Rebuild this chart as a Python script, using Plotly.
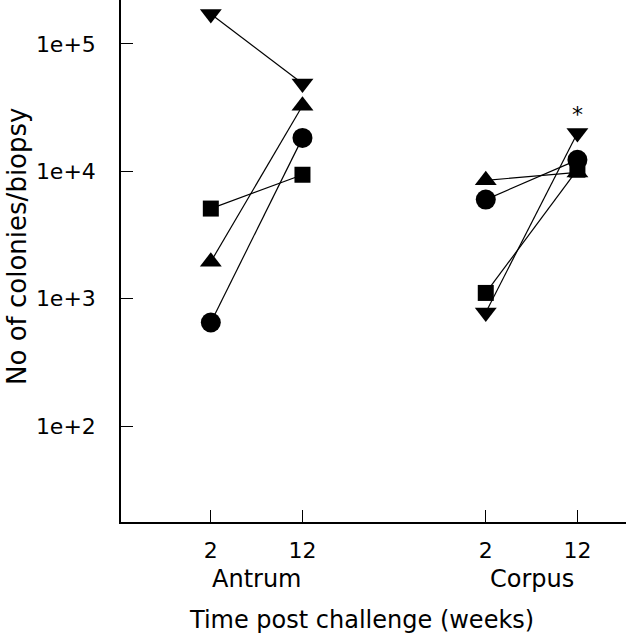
import plotly.graph_objects as go
import math

# x positions: Antrum 2wk, Antrum 12wk, (gap), Corpus 2wk, Corpus 12wk
x_pos = [1, 2, None, 4, 5]
tick_vals = [1, 2, 4, 5]
tick_text = ["2", "12", "2", "12"]
site_labels = ["Antrum", "Corpus"]
site_centers = [1.5, 4.5]

# colonies/biopsy: [Antrum 2, Antrum 12, None, Corpus 2, Corpus 12]
down_tri = [172000, 49000, None, 780, 20000]
up_tri = [1950, 32700, None, 8500, 9800]
circle = [650, 18300, None, 6000, 12300]
square = [5100, 9400, None, 1110, 10300]

y_tickvals = [100, 1000, 10000, 100000]
y_ticktext = ["1e+2", "1e+3", "1e+4", "1e+5"]

FONT = "DejaVu Sans"

fig = go.Figure()
series = [
    ("triangle-down", down_tri, 19),
    ("triangle-up", up_tri, 19),
    ("circle", circle, 20),
    ("square", square, 16),
]
for sym, vals, sz in series:
    fig.add_trace(go.Scatter(
        x=x_pos, y=vals, mode="lines+markers", connectgaps=False,
        line=dict(color="black", width=1.2),
        marker=dict(symbol=sym, size=sz, color="black", line=dict(width=0)),
        showlegend=False, cliponaxis=False,
    ))

# asterisk above Corpus 12-week down-triangle
fig.add_annotation(x=5, y=math.log10(down_tri[4]), text="*", showarrow=False,
                   yshift=18, font=dict(family=FONT, size=22, color="black"))

for lab, cx in zip(site_labels, site_centers):
    fig.add_annotation(x=cx, y=0, xref="x", yref="paper", yanchor="top",
                       text=lab, showarrow=False, yshift=-41,
                       font=dict(family=FONT, size=24, color="black"))

fig.add_annotation(x=0.5, y=0, xref="paper", yref="paper", yanchor="top",
                   xanchor="center", text="Time post challenge (weeks)",
                   showarrow=False, yshift=-82, xshift=-12,
                   font=dict(family=FONT, size=24, color="black"))
fig.add_annotation(x=0, y=0.527, xref="paper", yref="paper", xanchor="center",
                   yanchor="middle", text="No of colonies/biopsy", textangle=-90,
                   showarrow=False, xshift=-104,
                   font=dict(family=FONT, size=26, color="black"))

fig.update_xaxes(range=[0.02, 5.53], tickvals=tick_vals, ticktext=tick_text,
                 ticks="inside", ticklen=12, tickwidth=1.2, tickcolor="black",
                 showline=True, linecolor="black", linewidth=1.5,
                 showgrid=False, zeroline=False, ticklabelstandoff=8,
                 tickfont=dict(family=FONT, size=22, color="black"))
fig.update_yaxes(type="log", range=[1.247, 5.345], tickvals=y_tickvals,
                 ticktext=y_ticktext, ticks="inside", ticklen=12, tickwidth=1.2,
                 tickcolor="black", showline=True, linecolor="black",
                 linewidth=1.5, showgrid=False, zeroline=False,
                 ticklabelstandoff=19,
                 tickfont=dict(family=FONT, size=22, color="black"))

fig.update_layout(width=626, height=639, plot_bgcolor="white",
                  paper_bgcolor="white",
                  margin=dict(l=121, r=0, t=0, b=117))
fig.write_html("out.html", config={"displayModeBar": False},
               post_script="document.body.style.margin='0';")
